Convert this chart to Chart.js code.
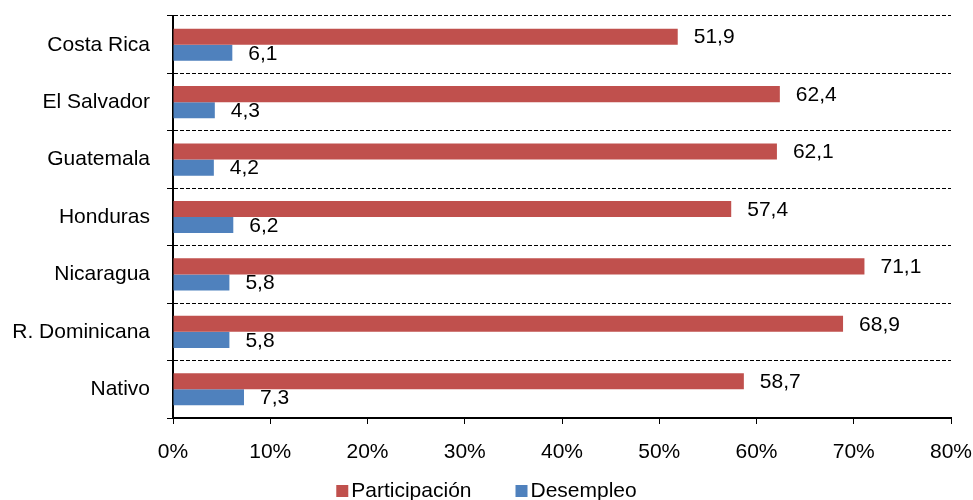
<!DOCTYPE html>
<html>
<head>
<meta charset="utf-8">
<script src="https://cdn.jsdelivr.net/npm/chart.js@4/dist/chart.umd.min.js"></script>
<style>
  html, body { margin: 0; padding: 0; background: #fff; }
  #wrap { width: 973px; height: 500px; }
</style>
</head>
<body>
<div id="wrap"><canvas id="my-chart"></canvas></div>
<script>
const paises = ["Costa Rica", "El Salvador", "Guatemala", "Honduras", "Nicaragua", "R. Dominicana", "Nativo"];
const participacion = [51.9, 62.4, 62.1, 57.4, 71.1, 68.9, 58.7];
const desempleo = [6.1, 4.3, 4.2, 6.2, 5.8, 5.8, 7.3];
const ticksX = [0, 10, 20, 30, 40, 50, 60, 70, 80];

const fontName = "'Liberation Sans', Arial, sans-serif";
const fontSize = 21;

// number next to the end of each bar, with a decimal comma
const barValues = {
  id: "barValues",
  afterDatasetsDraw(chart) {
    const ctx = chart.ctx;
    ctx.save();
    ctx.font = fontSize + "px " + fontName;
    ctx.fillStyle = "#000";
    ctx.textAlign = "left";
    ctx.textBaseline = "middle";
    chart.data.datasets.forEach((ds, i) => {
      chart.getDatasetMeta(i).data.forEach((bar, j) => {
        const txt = ds.data[j].toFixed(1).replace(".", ",");
        ctx.fillText(txt, bar.x + 16, bar.y + 1);
      });
    });
    ctx.restore();
  }
};

// small square + name, centred under the chart
const bottomLegend = {
  id: "bottomLegend",
  afterDraw(chart) {
    const ctx = chart.ctx;
    ctx.save();
    ctx.font = fontSize + "px " + fontName;
    ctx.textBaseline = "middle";
    const box = 12, gapBox = 3, gapItem = 44;
    const items = chart.data.datasets.map(ds => ({
      label: ds.label,
      color: ds.backgroundColor,
      w: box + gapBox + ctx.measureText(ds.label).width
    }));
    const total = items.reduce((s, it) => s + it.w, 0) + gapItem * (items.length - 1);
    let x = (chart.width - total) / 2;
    const y = 491;
    items.forEach(it => {
      ctx.fillStyle = it.color;
      ctx.fillRect(x, y - 6, box, box);
      ctx.fillStyle = "#000";
      ctx.fillText(it.label, x + box + gapBox, y);
      x += it.w + gapItem;
    });
    ctx.restore();
  }
};

const ctx = document.getElementById("my-chart").getContext("2d");
const chart = new Chart(ctx, {
  type: "bar",
  data: {
    labels: paises,
    datasets: [
      {
        label: "Participación",
        backgroundColor: "#C0504D",
        data: participacion
      },
      {
        label: "Desempleo",
        backgroundColor: "#4F81BD",
        data: desempleo
      }
    ]
  },
  options: {
    indexAxis: "y",
    responsive: true,
    maintainAspectRatio: false,
    animation: false,
    categoryPercentage: 0.56,
    barPercentage: 1,
    layout: { padding: { top: 16, right: 22, left: 0, bottom: 0 } },
    plugins: {
      legend: { display: false },
      tooltip: { enabled: false }
    },
    scales: {
      x: {
        min: 0,
        max: 80,
        afterBuildTicks: scale => {
          scale.ticks = ticksX.map(v => ({ value: v }));
        },
        afterFit: scale => {
          scale.height = 82;
          scale.paddingLeft = 0;
          scale.paddingRight = 0;
        },
        grid: {
          drawOnChartArea: false,
          drawTicks: true,
          tickLength: 6,
          tickColor: "#000"
        },
        border: { display: true, color: "#000", width: 2 },
        ticks: {
          padding: 16,
          color: "#000",
          font: { size: fontSize, family: fontName },
          callback: v => v + "%"
        }
      },
      y: {
        afterFit: scale => {
          scale.width = 173;
          scale.paddingTop = 0;
          scale.paddingBottom = 0;
        },
        grid: {
          color: "#000",
          lineWidth: 1,
          tickLength: 6,
          tickColor: "#000"
        },
        border: { display: true, color: "#000", width: 2, dash: [4, 2] },
        ticks: {
          padding: 17,
          color: "#000",
          font: { size: fontSize, family: fontName }
        }
      }
    }
  },
  plugins: [barValues, bottomLegend]
});
</script>
</body>
</html>
